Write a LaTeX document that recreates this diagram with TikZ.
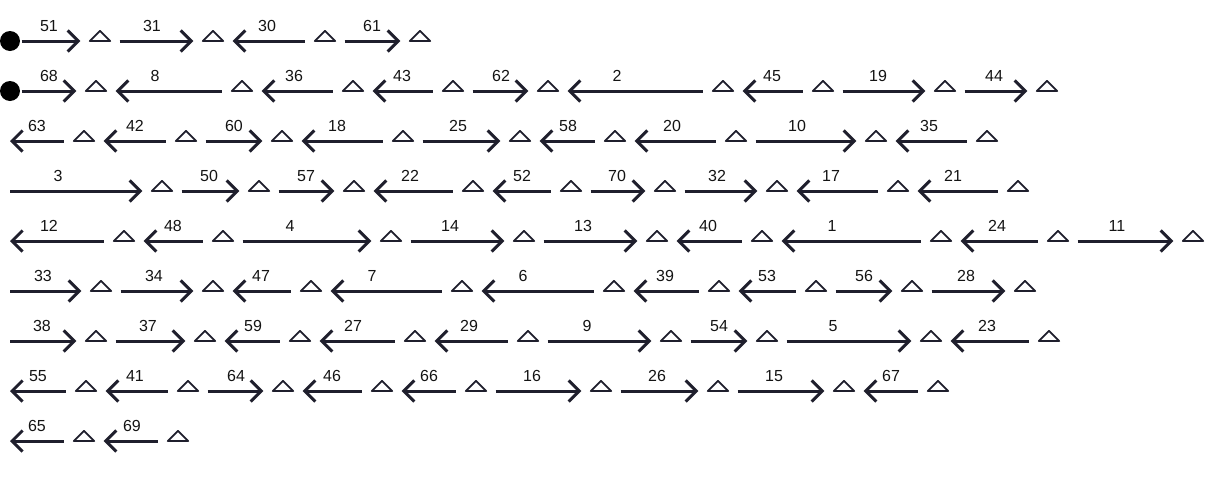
\documentclass[tikz,border=0pt]{standalone}
\usepackage{fontspec}
\setmainfont{Liberation Sans}
\usetikzlibrary{arrows.meta}
\definecolor{ink}{HTML}{1F1F2D}
\definecolor{txt}{HTML}{141414}
\tikzset{
  tri/.style={inner sep=0pt, minimum width=20pt, minimum height=20pt, rectangle,
    append after command={\pgfextra{\let\tn\tikzlastnode
      \draw[ink, line width=1.8pt, line join=round] (\tn.west) -- (\tn.north) -- (\tn.east) -- cycle;}}},
  dot/.style={circle, fill=black, inner sep=0pt, minimum size=20pt},
  lbl/.style={font=\fontsize{16}{19}\selectfont, anchor=base, inner sep=0pt, text=txt},
  arr/.style={draw=ink, line width=3pt},
  fw/.style={-{Straight Barb[length=10.5pt,width=21pt]}},
  bw/.style={{Straight Barb[length=10.5pt,width=21pt]}-},
}
\newcommand\drawrow[4]{% #1 row, #2 y, #3 first shorten, #4 items
  \foreach \dd/\lab/\tx/\lx [count=\i] in {#4} {
    \pgfmathtruncatemacro\j{\i-1}
    \ifnum\i=1 \def\sh{#3}\else\def\sh{9.5pt}\fi
    \node[tri] (r#1n\i) at (\tx,#2) {};
    \node[lbl] at (\lx,{#2-10}) {\lab};
    \draw[arr,\dd, shorten <=\sh, shorten >=9.5pt] (r#1n\j) -- (r#1n\i);
  }}
\begin{document}
\begin{tikzpicture}[x=1pt,y=-1pt]
\useasboundingbox (0,0) rectangle (1229,477);
\fill[white] (0,0) rectangle (1229,477);
\node[dot] (r1n0) at (10,41) {};
\node[dot] (r2n0) at (10,91) {};
\coordinate (r3n0) at (10,141);
\coordinate (r4n0) at (10,191);
\coordinate (r5n0) at (10,241);
\coordinate (r6n0) at (10,291);
\coordinate (r7n0) at (10,341);
\coordinate (r8n0) at (10,391);
\coordinate (r9n0) at (10,441);
\drawrow{1}{41}{1.5pt}{fw/51/100/49, fw/31/213/152, bw/30/325/267, fw/61/420/372}
\drawrow{2}{91}{1.5pt}{fw/68/96/49, bw/8/242/155, bw/36/353/294, bw/43/453/402, fw/62/548/501, bw/2/723/617, bw/45/823/772, fw/19/945/878, fw/44/1047/994}
\drawrow{3}{141}{0pt}{bw/63/84/37, bw/42/186/135, fw/60/282/234, bw/18/403/337, fw/25/520/458, bw/58/615/568, bw/20/736/672, fw/10/876/797, bw/35/987/929}
\drawrow{4}{191}{0pt}{fw/3/162/58, fw/50/259/209, fw/57/354/306, bw/22/473/410, bw/52/571/522, fw/70/665/617, fw/32/777/717, bw/17/898/831, bw/21/1018/953}
\drawrow{5}{241}{0pt}{bw/12/124/49, bw/48/223/173, fw/4/391/290, fw/14/524/450, fw/13/657/583, bw/40/762/708, bw/1/941/832, bw/24/1058/997, fw/11/1193/1117}
\drawrow{6}{291}{0pt}{fw/33/101/43, fw/34/213/154, bw/47/311/261, bw/7/462/372, bw/6/614/523, bw/39/719/665, bw/53/816/767, fw/56/912/864, fw/28/1025/966}
\drawrow{7}{341}{0pt}{fw/38/96/42, fw/37/205/148, bw/59/300/253, bw/27/415/353, bw/29/528/469, fw/9/671/587, fw/54/767/719, fw/5/931/833, bw/23/1049/987}
\drawrow{8}{391}{0pt}{bw/55/86/38, bw/41/188/135, fw/64/283/236, bw/46/382/332, bw/66/476/429, fw/16/601/532, fw/26/718/657, fw/15/844/774, bw/67/938/891}
\drawrow{9}{441}{0pt}{bw/65/84/37, bw/69/178/132}
\end{tikzpicture}
\end{document}
